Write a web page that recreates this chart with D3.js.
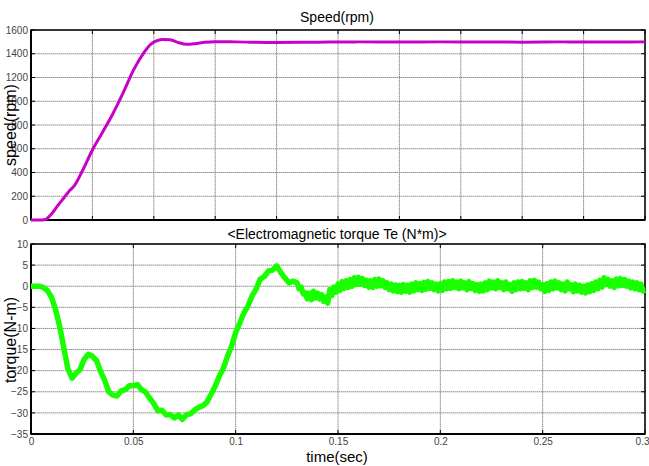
<!DOCTYPE html>
<html><head><meta charset="utf-8">
<script src="https://cdn.jsdelivr.net/npm/d3@7"></script>
<style>
html,body{margin:0;padding:0;background:#fff;}
svg{display:block;}
text{font-family:"Liberation Sans",Arial,sans-serif;}
.tick text{font-family:"Liberation Sans Narrow","Arial Narrow","Liberation Sans",sans-serif;}
</style></head>
<body>
<svg id="c" width="649" height="466"></svg>
<script>
// ---- data ----
const speedTime  = [0,0.004,0.007,0.010,0.013,0.016,0.019,0.021,0.025,0.030,0.035,0.040,0.045,0.050,0.055,0.058,0.061,0.064,0.068,0.072,0.076,0.080,0.085,0.090,0.100,0.120,0.140,0.160,0.180,0.200,0.220,0.240,0.260,0.280,0.300];
const speedValue = [0,0,5,50,120,185,250,285,410,590,740,895,1070,1260,1405,1472,1506,1520,1518,1495,1480,1485,1497,1502,1500,1495,1497,1500,1498,1500,1500,1497,1500,1498,1500];

// sample times: every 2 ms up to 0.128 s, then every 1 ms to 0.3 s
const torqueTime = d3.range(0, 65).map(i => +(i * 0.002).toFixed(3))
  .concat(d3.range(130, 301).map(i => i / 1000));
const torqueValue = [
 // 0 .. 0.128 (2 ms)
 0,0,0,-0.3,-1.0,-2.6,-5.5,-9.5,-14.5,-19.5,
 -21.8,-20.6,-19.7,-17.3,-16.1,-16.6,-17.6,-20.2,-22.3,-25.0,
 -25.8,-26.0,-24.8,-24.5,-23.6,-23.6,-23.3,-24.5,-25.1,-26.5,
 -27.8,-29.5,-29.4,-30.5,-30.4,-31.2,-30.5,-31.5,-30.4,-30.2,
 -29.3,-28.7,-28.3,-27.4,-25.6,-23.7,-21.3,-19.4,-16.6,-14.2,
 -11.0,-8.7,-6.3,-4.7,-2.3,-0.7,1.7,2.3,3.6,3.8,
 4.8,3.3,2.0,0.8,1.2,
 // 0.130 .. 0.300 (1 ms)
 0.8,-0.6,-0.2,-1.8,-1.5,-3.0,-1.6,-3.2,-1.2,-2.8,
 -1.6,-3.0,-2.0,-3.6,-2.6,-4.0,-0.8,-2.2,-0.2,-1.4,
 0.5,-1.0,1.1,-0.5,1.3,-0.3,1.6,0.0,2.0,0.4,
 2.1,0.5,1.8,0.2,1.4,-0.2,1.3,-0.3,1.6,0.0,
 1.7,0.1,1.3,-0.3,0.8,-0.8,0.5,-1.1,0.3,-1.3,
 0.2,-1.4,0.4,-1.2,0.2,-1.4,0.5,-1.1,0.8,-0.8,
 0.6,-1.0,0.9,-0.7,1.1,-0.5,0.8,-0.8,0.5,-1.1,
 0.6,-1.0,1.0,-0.6,1.1,-0.5,1.3,-0.3,1.0,-0.6,
 1.2,-0.4,0.8,-0.8,1.1,-0.5,0.6,-1.0,0.4,-1.2,
 0.5,-1.1,0.8,-0.8,1.2,-0.4,1.0,-0.6,1.3,-0.3,
 0.8,-0.8,1.0,-0.6,0.4,-1.2,0.8,-0.8,1.0,-0.6,
 1.1,-0.5,0.8,-0.8,1.3,-0.3,1.4,-0.2,1.0,-0.6,
 0.4,-1.2,0.6,-1.0,1.0,-0.6,1.2,-0.4,0.8,-0.8,
 0.5,-1.1,1.0,-0.6,0.3,-1.3,0.5,-1.1,0.2,-1.4,
 0.0,-1.6,0.3,-1.3,0.6,-1.0,1.0,-0.6,1.4,-0.2,
 2.0,0.4,1.6,0.0,1.3,-0.3,1.7,0.1,1.8,0.2,
 1.6,0.0,1.2,-0.4,1.0,-0.6,0.8,-0.8,0.5,-1.1,
 -0.9
];

const speedTicks  = [0,200,400,600,800,1000,1200,1400,1600];
const speedGridX  = [0,0.03,0.06,0.09,0.12,0.15,0.18,0.21,0.24,0.27,0.3];
const torqueTicks = [-35,-30,-25,-20,-15,-10,-5,0,5,10];
const timeTicks   = [0,0.05,0.1,0.15,0.2,0.25,0.3];
const timeTickLabels = ["0","0.05","0.1","0.15","0.2","0.25","0.3"];

// ---- layout ----
const svg = d3.select("#c");
const L = 31, R = 645;
const top1 = 30, bot1 = 220;
const top2 = 244, bot2 = 434;

const x = d3.scaleLinear().domain([0,0.3]).range([L,R]);
const y1 = d3.scaleLinear().domain([0,1600]).range([bot1,top1]);
const y2 = d3.scaleLinear().domain([-35,10]).range([bot2,top2]);

function panel(y, yTicks, xGrid, top, bot, showX){
  const g = svg.append("g");
  g.selectAll(".gx").data(xGrid).enter().append("line")
    .attr("x1",d=>x(d)).attr("x2",d=>x(d)).attr("y1",top).attr("y2",bot)
    .attr("stroke","#8c8c8c").attr("stroke-width",1).attr("stroke-dasharray","1.5,0.5");
  g.selectAll(".gy").data(yTicks).enter().append("line")
    .attr("x1",L).attr("x2",R).attr("y1",d=>y(d)).attr("y2",d=>y(d))
    .attr("stroke","#8c8c8c").attr("stroke-width",1).attr("stroke-dasharray","1.5,0.5");
  const tl = 4;
  xGrid.forEach(d=>{
    g.append("line").attr("x1",x(d)).attr("x2",x(d)).attr("y1",top).attr("y2",top+tl).attr("stroke","#000");
    g.append("line").attr("x1",x(d)).attr("x2",x(d)).attr("y1",bot).attr("y2",bot-tl).attr("stroke","#000");
  });
  yTicks.forEach(d=>{
    g.append("line").attr("x1",L).attr("x2",L+tl).attr("y1",y(d)).attr("y2",y(d)).attr("stroke","#000");
    g.append("line").attr("x1",R).attr("x2",R-tl).attr("y1",y(d)).attr("y2",y(d)).attr("stroke","#000");
  });
  const ya = d3.axisLeft(y).tickValues(yTicks).tickSize(0).tickPadding(3).tickFormat(d3.format("d"));
  const ag = svg.append("g").attr("transform",`translate(${L},0)`).call(ya);
  ag.select(".domain").remove();
  ag.selectAll("text").attr("font-size",10).attr("fill","#444");
  if(showX){
    const xa = d3.axisBottom(x).tickValues(timeTicks).tickSize(0).tickPadding(4)
      .tickFormat((d,i)=>timeTickLabels[i]);
    const xg = svg.append("g").attr("transform",`translate(0,${bot})`).call(xa);
    xg.select(".domain").remove();
    xg.selectAll("text").attr("font-size",10).attr("fill","#444")
      .attr("text-anchor",(d,i)=> i===timeTicks.length-1 ? "end" : "middle")
      .attr("dx",(d,i)=> i===timeTicks.length-1 ? 4 : 0);
  }
  svg.append("rect").attr("x",L).attr("y",top).attr("width",R-L).attr("height",bot-top)
    .attr("fill","none").attr("stroke","#000").attr("stroke-width",1.5);
  svg.append("line").attr("x1",L).attr("x2",R).attr("y1",bot).attr("y2",bot).attr("stroke","#000").attr("stroke-width",2);
  svg.append("line").attr("x1",L).attr("x2",L).attr("y1",top).attr("y2",bot).attr("stroke","#000").attr("stroke-width",2);
}

panel(y1, speedTicks, speedGridX, top1, bot1, false);
panel(y2, torqueTicks, timeTicks, top2, bot2, true);

const sData = speedTime.map((t,i)=>[t,speedValue[i]]);
svg.append("path").datum(sData)
  .attr("d", d3.line().x(d=>x(d[0])).y(d=>y1(d[1])).curve(d3.curveMonotoneX))
  .attr("fill","none").attr("stroke","#c800c8").attr("stroke-width",3).attr("stroke-linejoin","round");

const tData = torqueTime.map((t,i)=>[t,torqueValue[i]]);
svg.append("path").datum(tData)
  .attr("d", d3.line().x(d=>x(d[0])).y(d=>y2(d[1])))
  .attr("fill","none").attr("stroke","#1aff00").attr("stroke-width",5.5).attr("stroke-linejoin","round");

svg.append("text").attr("x",337).attr("y",22).attr("text-anchor","middle").attr("font-size",14).text("Speed(rpm)");
svg.append("text").attr("x",337).attr("y",239).attr("text-anchor","middle").attr("font-size",14).text("<Electromagnetic torque Te (N*m)>");
svg.append("text").attr("x",337).attr("y",462).attr("text-anchor","middle").attr("font-size",15).text("time(sec)");
svg.append("text").attr("transform","translate(16,125) rotate(-90)").attr("text-anchor","middle").attr("font-size",16).text("speed(rpm)");
svg.append("text").attr("transform","translate(16,340) rotate(-90)").attr("text-anchor","middle").attr("font-size",16).text("torque(N-m)");
</script>
</body></html>
